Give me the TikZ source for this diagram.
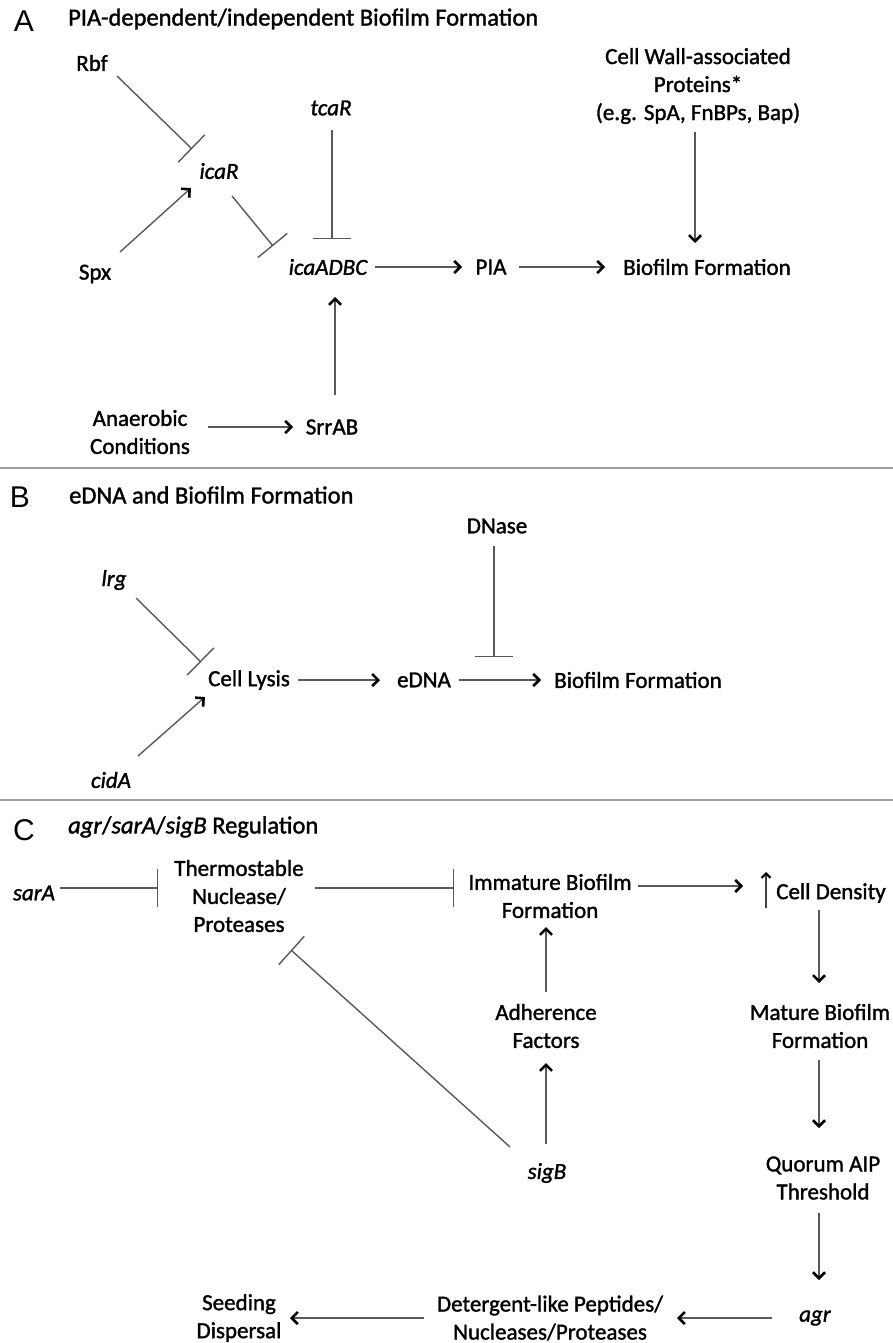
\documentclass[tikz,border=0pt]{standalone}
\usepackage{fontspec}
\setmainfont{Carlito}[FakeBold=1.4]
\newfontfamily\panelfont{Liberation Sans}
\usetikzlibrary{arrows.meta,calc}
\tikzset{
  lbl/.style={align=center, inner sep=0pt, font=\fontsize{23}{28}\selectfont},
  gene/.style={lbl, font=\fontsize{23}{28}\selectfont\itshape},
  panel/.style={inner sep=0pt, font=\panelfont\fontsize{30}{36}\selectfont},
  ttl/.style={anchor=west, inner sep=0pt, font=\fontsize{24.5}{29}\selectfont},
  flow/.style={-{Straight Barb[length=6pt,width=12pt,line width=2.6pt,color=black]},
               line width=1.4pt, draw=black!65},
  inhib/.style={-{Bar[width=38pt]}, line width=1.4pt, draw=black!65},
  upmark/.style={-{Straight Barb[length=4.5pt,width=9pt,line width=2pt,color=black]},
                 line width=1.5pt, draw=black!75},
  rule/.style={line width=2.5pt, draw=black!38},
}

\begin{document}
\begin{tikzpicture}[x=1pt, y=-1pt]
  \useasboundingbox (0,0) rectangle (893,1343);

  % panel A
  \node[panel] (pA) at (24,21) {A};
  \node[ttl] (tA) at (68,19) {PIA-dependent/independent Biofilm Formation};
  \node[lbl] (rbf) at (92,63) {Rbf};
  \node[gene] (tcar) at (331,108) {tcaR};
  \node[gene] (icar) at (219,171) {icaR};
  \node[lbl] (spx) at (95,274) {Spx};
  \node[gene] (ica) at (328,267) {icaADBC};
  \node[lbl] (pia) at (491,267) {PIA};
  \node[lbl] (bfA) at (707,267) {Biofilm Formation};
  \node[lbl] (cwp) at (698,86) {Cell Wall-associated\\Proteins*\\(e.g. SpA, FnBPs, Bap)};
  \node[lbl] (anc) at (140,432) {Anaerobic\\Conditions};
  \node[lbl] (srr) at (332,427) {SrrAB};

  \draw[inhib] ([shift={(25,13)}]rbf.center) -- ([shift={(-27,-22)}]icar.center);
  \draw[flow] ([shift={(25,-22)}]spx.center) -- ([shift={(-28,17)}]icar.center);
  \draw[inhib] ([shift={(13,25)}]icar.center) -- ([shift={(-55,-21)}]ica.center);
  \draw[inhib] ([shift={(1,22)}]tcar.center) -- ([shift={(4,-28)}]ica.center);
  \draw[flow] ([shift={(47,0)}]ica.center) -- ([shift={(-29,0)}]pia.center);
  \draw[flow] ([shift={(28,0)}]pia.center) -- ([shift={(-102,0)}]bfA.center);
  \draw[flow] ([shift={(-3,46)}]cwp.center) -- ([shift={(-12,-24)}]bfA.center);
  \draw[flow] ([shift={(3,-32)}]srr.center) -- ([shift={(7,30)}]ica.center);
  \draw[flow] ([shift={(68,-5)}]anc.center) -- ([shift={(-39,0)}]srr.center);

  \draw[rule] (0,468) -- (893,468);

  % panel B
  \node[panel] (pB) at (20,497) {B};
  \node[ttl] (tB) at (69,495) {eDNA and Biofilm Formation};
  \node[lbl] (dnase) at (497,526) {DNase};
  \node[gene] (lrg) at (114,580) {lrg};
  \node[lbl] (lysis) at (249,680) {Cell Lysis};
  \node[gene] (cida) at (111,780) {cidA};
  \node[lbl] (edna) at (424,680) {eDNA};
  \node[lbl] (bfB) at (638,680) {Biofilm Formation};

  \draw[inhib] ([shift={(-3,20)}]dnase.center) -- ([shift={(-3,131)}]dnase.center);
  \draw[inhib] ([shift={(22,18)}]lrg.center) -- ([shift={(-48,-18)}]lysis.center);
  \draw[flow] ([shift={(27,-24)}]cida.center) -- ([shift={(-44,17)}]lysis.center);
  \draw[flow] ([shift={(49,0)}]lysis.center) -- ([shift={(-44,0)}]edna.center);
  \draw[flow] ([shift={(35,0)}]edna.center) -- ([shift={(-97,0)}]bfB.center);

  \draw[rule] (0,800) -- (893,800);

  % panel C
  \node[panel] (pC) at (24,830) {C};
  \node[ttl] (tC) at (68,827) {\textit{agr}/\textit{sarA}/\textit{sigB} Regulation};
  \node[gene] (sara) at (34,893) {sarA};
  \node[lbl] (thn) at (239,896) {Thermostable\\Nuclease/\\Proteases};
  \node[lbl] (imm) at (550,896) {Immature Biofilm\\Formation};
  \node[lbl] (cd) at (831,893) {Cell Density};
  \node[lbl] (adh) at (546,1026) {Adherence\\Factors};
  \node[lbl] (mat) at (820,1026) {Mature Biofilm\\Formation};
  \node[gene] (sigb) at (547,1173) {sigB};
  \node[lbl] (qat) at (823,1178) {Quorum AIP\\Threshold};
  \node[gene] (agr) at (815,1318) {agr};
  \node[lbl] (det) at (550,1318) {Detergent-like Peptides/\\Nucleases/Proteases};
  \node[lbl] (sd) at (239,1318) {Seeding\\Dispersal};

  \draw[upmark] ([shift={(-65,15)}]cd.center) -- ([shift={(-65,-21)}]cd.center);

  \draw[inhib] ([shift={(26,-5)}]sara.center) -- ([shift={(-81,-8)}]thn.center);
  \draw[inhib] ([shift={(76,-8)}]thn.center) -- ([shift={(-96,-8)}]imm.center);
  \draw[flow] ([shift={(88,-10)}]imm.center) -- ([shift={(-88,-7)}]cd.center);
  \draw[flow] ([shift={(-12,17)}]cd.center) -- ([shift={(-1,-43)}]mat.center);
  \draw[flow] ([shift={(-1,34)}]mat.center) -- ([shift={(-4,-50)}]qat.center);
  \draw[flow] ([shift={(-4,35)}]qat.center) -- ([shift={(4,-38)}]agr.center);
  \draw[flow] ([shift={(-43,0)}]agr.center) -- ([shift={(127,0)}]det.center);
  \draw[flow] ([shift={(-126,0)}]det.center) -- ([shift={(51,0)}]sd.center);
  \draw[flow] ([shift={(-1,-29)}]sigb.center) -- ([shift={(0,37)}]adh.center);
  \draw[flow] ([shift={(0,-34)}]adh.center) -- ([shift={(-4,31)}]imm.center);
  \draw[inhib] ([shift={(-37,-26)}]sigb.center) -- ([shift={(52,54)}]thn.center);
\end{tikzpicture}
\end{document}
